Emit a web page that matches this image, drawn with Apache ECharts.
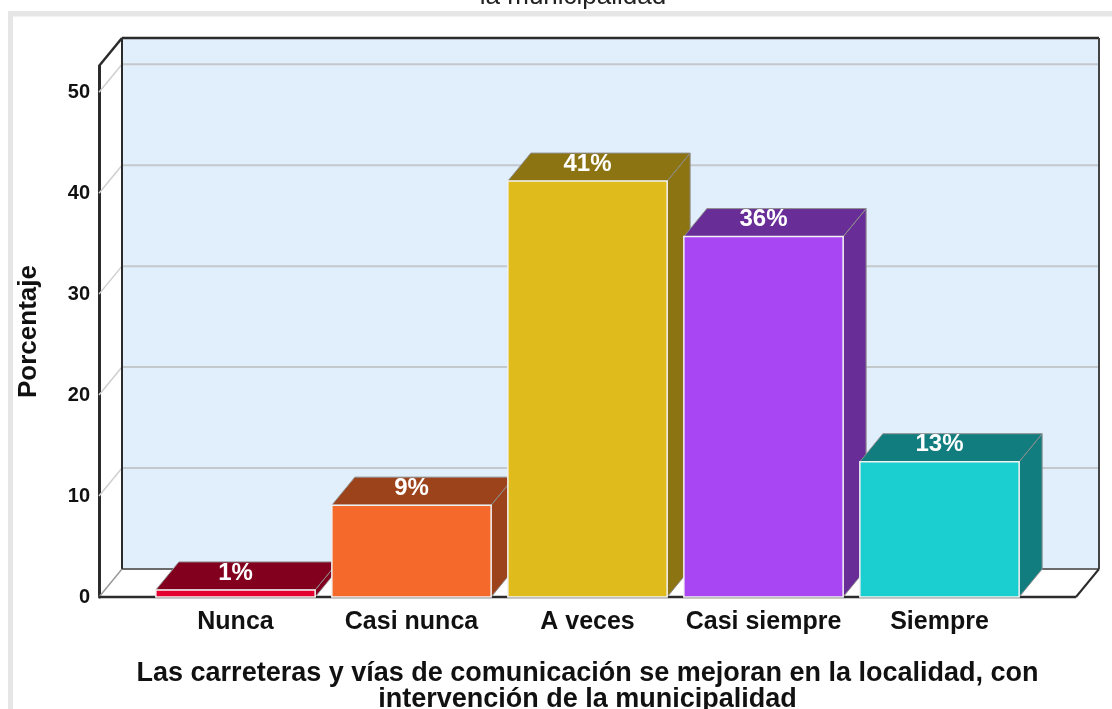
<!DOCTYPE html>
<html>
<head>
<meta charset="utf-8">
<style>
  html, body { margin: 0; padding: 0; background: #fff; }
  #chart { width: 1112px; height: 709px; }
</style>
<script src="https://cdn.jsdelivr.net/npm/echarts@6/dist/echarts.min.js"></script>
</head>
<body>
<div id="chart"></div>
<script>
const categories = ['Nunca', 'Casi nunca', 'A veces', 'Casi siempre', 'Siempre']
const values = [0.7, 9.1, 41.2, 35.7, 13.4]
const valueLabels = ['1%', '9%', '41%', '36%', '13%']
const yTicks = [0, 10, 20, 30, 40, 50]
const frontColors = ['#e4002f', '#f5692a', '#e0bb1c', '#a946f3', '#1bcfd0']
const shadeColors = ['#82001e', '#9c431b', '#8c7412', '#682d97', '#117d7e']

const yMax = 52.6
const depthX = 23
const depthY = 28
const floorPad = 48.5   // the floor runs past the category bands on both sides
const fontName = '"Liberation Sans", Arial, sans-serif'

const line = (x1, y1, x2, y2, stroke, lineWidth) => ({
  type: 'line',
  shape: { x1, y1, x2, y2 },
  style: { stroke, lineWidth }
})

const poly = (points, fill, stroke) => ({
  type: 'polygon',
  shape: { points },
  style: { fill, stroke, lineWidth: 1 }
})

function renderWalls(params, api) {
  const c = params.coordSys
  const left = c.x - floorPad
  const right = c.x + c.width + floorPad
  const y0 = api.coord([0, 0])[1]
  const top = api.coord([0, yMax])[1]
  return {
    type: 'group',
    children: [
      { type: 'rect', shape: { x: left + depthX, y: top - depthY, width: right - left, height: y0 - top }, style: { fill: '#e1eefb' } },
      line(left + depthX, y0 - depthY, right + depthX, y0 - depthY, '#6b6b6b', 2)
    ]
  }
}

function renderGridLine(params, api) {
  const c = params.coordSys
  const left = c.x - floorPad
  const right = c.x + c.width + floorPad
  const y = api.coord([0, api.value(1)])[1]
  if (api.value(1) === 0) return { type: 'group', children: [] }
  return {
    type: 'group',
    children: [
      line(left, y, left + depthX, y - depthY, '#cfcfcf', 1.5),
      line(left + depthX, y - depthY, right + depthX, y - depthY, '#c3c8cc', 2)
    ]
  }
}

function renderEdges(params, api) {
  const c = params.coordSys
  const left = c.x - floorPad
  const right = c.x + c.width + floorPad
  const y0 = api.coord([0, 0])[1]
  const top = api.coord([0, yMax])[1]
  const dark = '#2b2b2b'
  return {
    type: 'group',
    children: [
      line(left, top, left + depthX, top - depthY, dark, 2.5),
      line(left + depthX, top - depthY, right + depthX, top - depthY, dark, 2.5),
      line(left + depthX, top - depthY, left + depthX, y0 - depthY, dark, 2),
      line(right + depthX, top - depthY, right + depthX, y0 - depthY, '#444', 2),
      line(left, y0, left + depthX, y0 - depthY, '#9a9a9a', 1.5),
      line(right, y0, right + depthX, y0 - depthY, dark, 2),
      line(left, y0, right, y0, dark, 2.5)
    ]
  }
}

function renderBar(params, api) {
  const i = api.value(0)
  const top = api.coord([i, api.value(1)])
  const base = api.coord([i, 0])
  const w = api.size([1, 0])[0] * 0.905
  const x1 = top[0] - w / 2
  const x2 = top[0] + w / 2
  const edge = '#8e8e8e'
  return {
    type: 'group',
    children: [
      poly([[x2, top[1]], [x2 + depthX, top[1] - depthY], [x2 + depthX, base[1] - depthY], [x2, base[1]]], shadeColors[i], edge),
      poly([[x1, top[1]], [x1 + depthX, top[1] - depthY], [x2 + depthX, top[1] - depthY], [x2, top[1]]], shadeColors[i], edge),
      {
        type: 'rect',
        shape: { x: x1, y: top[1], width: w, height: base[1] - top[1] },
        style: { fill: frontColors[i], stroke: '#f2f2f2', lineWidth: 1.5 }
      },
      {
        type: 'text',
        x: top[0],
        y: top[1] - 17,
        style: {
          text: valueLabels[i],
          fill: '#fff',
          font: 'bold 24px ' + fontName,
          align: 'center',
          verticalAlign: 'middle'
        }
      }
    ]
  }
}

const chart = echarts.init(document.getElementById('chart'), null, { renderer: 'canvas' })

chart.setOption({
  animation: false,
  backgroundColor: '#fff',
  textStyle: { fontFamily: fontName },
  title: {
    text: 'la municipalidad',
    left: 568,
    top: -21,
    textAlign: 'center',
    textStyle: { fontSize: 26, fontWeight: 'normal', color: '#222', fontFamily: fontName }
  },
  graphic: [
    { type: 'rect', shape: { x: 8, y: 11, width: 1104, height: 5.5 }, style: { fill: '#e6e6e6' }, silent: true },
    { type: 'rect', shape: { x: 8, y: 11, width: 5, height: 698 }, style: { fill: '#e6e6e6' }, silent: true }
  ],
  grid: { left: 147.5, right: 84.5, top: 66, bottom: 112, outerBoundsMode: 'none' },
  xAxis: {
    type: 'category',
    data: categories,
    axisLine: { show: false },
    axisTick: { show: false },
    axisLabel: { interval: 0, margin: 13, fontSize: 25, fontWeight: 'bold', color: '#111', fontFamily: fontName },
    name: 'Las carreteras y vías de comunicación se mejoran en la localidad, con\nintervención de la municipalidad',
    nameLocation: 'middle',
    nameGap: 64,
    nameTextStyle: { fontSize: 27, fontWeight: 'bold', color: '#111', lineHeight: 26, fontFamily: fontName }
  },
  yAxis: {
    type: 'value',
    min: 0,
    max: yMax,
    interval: 10,
    offset: floorPad,
    axisLine: { show: true, onZero: false, lineStyle: { color: '#2b2b2b', width: 3 } },
    axisTick: { show: false },
    splitLine: { show: false },
    axisLabel: { margin: 9, fontSize: 20, fontWeight: 'bold', color: '#111', showMaxLabel: false, padding: [4, 0, 0, 0], fontFamily: fontName },
    name: 'Porcentaje',
    nameLocation: 'middle',
    nameGap: 57,
    nameTextStyle: { fontSize: 26, fontWeight: 'bold', color: '#111', fontFamily: fontName }
  },
  series: [
    { type: 'custom', z: 1, silent: true, encode: { x: 0, y: 1 }, data: [[0, 0]], renderItem: renderWalls },
    { type: 'custom', z: 2, silent: true, encode: { x: 0, y: 1 }, data: yTicks.map(t => [0, t]), renderItem: renderGridLine },
    { type: 'custom', z: 3, silent: true, encode: { x: 0, y: 1 }, data: [[0, 0]], renderItem: renderEdges },
    { type: 'custom', z: 4, silent: true, encode: { x: 0, y: 1 }, data: values.map((v, i) => [i, v]), renderItem: renderBar }
  ]
})
</script>
</body>
</html>
